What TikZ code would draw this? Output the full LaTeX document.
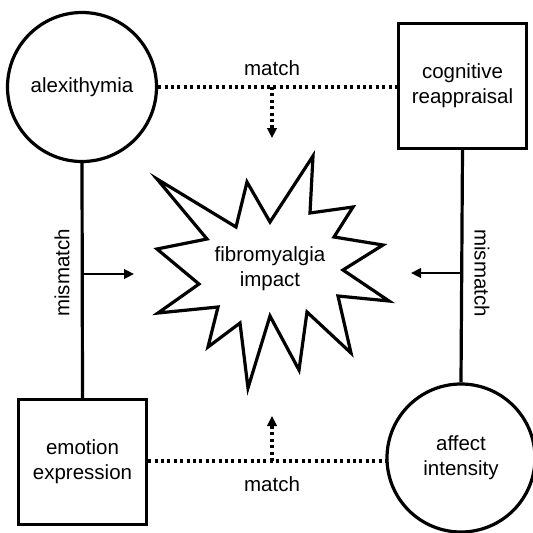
\documentclass[tikz,border=0pt]{standalone}
\usepackage{fontspec}
\setmainfont{Liberation Sans}
\usetikzlibrary{arrows.meta}
\begin{document}
\begin{tikzpicture}[x=1pt,y=-1pt,
  every node/.style={font=\fontsize{20.5}{25}\selectfont, align=center},
  circ/.style={circle, draw, line width=3.2pt, minimum size=149pt, inner sep=0pt},
  sqbox/.style={rectangle, draw, line width=3.2pt, minimum width=128pt, minimum height=125pt, inner sep=0pt},
  solidln/.style={line width=3.2pt},
  dotln/.style={line width=3.4pt, dash pattern=on 3pt off 3.4pt},
  tipA/.style={-{Triangle[length=10pt,width=9.5pt]}},
  lbl/.style={inner sep=0pt}
]
\useasboundingbox (0,0) rectangle (533,533);
\node[circ] (alex) at (82,87) {alexithymia};
\node[sqbox] (cog) at (462.5,86) {cognitive\\reappraisal};
\node[sqbox] (emo) at (82.5,462) {emotion\\expression};
\node[circ, minimum size=148pt] (aff) at (461,458) {affect\\intensity};

% star
\draw[line width=3.2pt, line join=miter, miter limit=10]
  (270,316) -- (299,370) -- (307,312) -- (351,353) -- (338,296) -- (389,301)
  -- (343,270) -- (383,245) -- (334,237) -- (353,207) -- (310,213) -- (313,156)
  -- (270,222) -- (247,182) -- (236,227) -- (157,179) -- (207,239) -- (157,249)
  -- (199,284) -- (158,313) -- (218,307) -- (208,347) -- (240,323) -- (248,388)
  -- cycle;
\node (fm) at (270,269) {fibromyalgia\\impact};

% top match
\draw[dotln] (alex.east |- 0,87) -- (cog.west |- 0,87);
\coordinate (tm) at (272,87);
\coordinate (tt) at (272,138);
\draw[dotln, tipA] (tm) -- (tt);
\node[lbl] (mt) at (272,68) {match};

% bottom match
\draw[dotln] (emo.east |- 0,461) -- (aff.west |- 0,461);
\coordinate (bm) at (272,461);
\coordinate (bt) at (272,416);
\draw[dotln, tipA] (bm) -- (bt);
\node[lbl] (mb) at (272,484) {match};

% left mismatch
\draw[solidln] (alex.south) -- (emo.north);
\coordinate (lm) at (82,274);
\coordinate (lt) at (134,274);
\draw[solidln, line width=2.8pt, tipA] (lm) -- (lt);
\node[lbl, rotate=90] (ml) at (62,273) {mismatch};

% right mismatch
\draw[solidln] (cog.south) -- (aff.north);
\coordinate (rm) at (462,273);
\coordinate (rt) at (411,273);
\draw[solidln, line width=2.8pt, tipA] (rm) -- (rt);
\node[lbl, rotate=-90] (mr) at (482,273) {mismatch};
\end{tikzpicture}
\end{document}
